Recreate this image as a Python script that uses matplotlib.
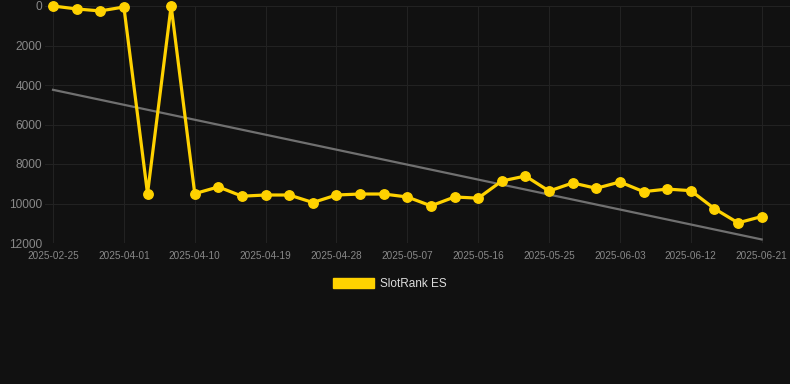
import matplotlib
matplotlib.use("Agg")
import matplotlib.pyplot as plt
import numpy as np

dates = ["2025-02-25", "2025-03-12", "2025-03-24", "2025-04-01", "2025-04-04",
         "2025-04-07", "2025-04-10", "2025-04-13", "2025-04-16", "2025-04-19",
         "2025-04-22", "2025-04-25", "2025-04-28", "2025-05-01", "2025-05-04",
         "2025-05-07", "2025-05-10", "2025-05-13", "2025-05-16", "2025-05-19",
         "2025-05-22", "2025-05-25", "2025-05-28", "2025-05-31", "2025-06-03",
         "2025-06-06", "2025-06-09", "2025-06-12", "2025-06-15", "2025-06-18",
         "2025-06-21"]
ranks = [0, 150, 250, 50, 9500, 0, 9500, 9160, 9630, 9570,
         9570, 9950, 9570, 9520, 9520, 9670, 10120, 9670, 9730, 8860,
         8610, 9370, 8960, 9230, 8910, 9400, 9270, 9350, 10260, 10980,
         10660]
series_name = "SlotRank ES"
yticks = [0, 2000, 4000, 6000, 8000, 10000, 12000]

plt.rcParams['font.family'] = ['Liberation Sans', 'DejaVu Sans']

bg = "#111111"
fig = plt.figure(figsize=(7.9, 3.84), dpi=100, facecolor=bg)
ax = fig.add_axes([45/790, 1 - 243/384, 745/790, 237/384], facecolor=bg)

x = np.arange(len(dates))
# trend line (linear fit)
coef = np.polyfit(x, ranks, 1)
ax.plot(x, np.polyval(coef, x), color="#707070", lw=1.6, zorder=2)

ax.plot(x, ranks, color="#FFD200", lw=2.3, marker="o", ms=6.8,
        zorder=3, clip_on=False, label=series_name)

ax.set_ylim(12000, 0)
ax.set_xlim(-0.34, 31.2)
ax.set_yticks(yticks)
ax.set_yticklabels([str(v) for v in yticks])
ax.set_xticks(x[::3])
ax.set_xticklabels(dates[::3])

ax.grid(True, color="#222222", lw=0.8)
ax.set_axisbelow(True)
for s in ax.spines.values():
    s.set_visible(False)
ax.tick_params(axis="y", length=0, pad=2, labelsize=8.6, labelcolor="#888888")
ax.tick_params(axis="x", length=0, pad=6, labelsize=7.2, labelcolor="#888888")

leg = fig.legend(handles=[plt.Rectangle((0, 0), 1, 1, color="#FFD200")],
                 labels=[series_name], loc="center", bbox_to_anchor=(390/790, 1 - 284/384),
                 frameon=False, fontsize=8.5, handlelength=3.5, handleheight=0.9,
                 handletextpad=0.5)
for t in leg.get_texts():
    t.set_color("#dddddd")

fig.savefig("out.png", dpi=100, facecolor=bg)
